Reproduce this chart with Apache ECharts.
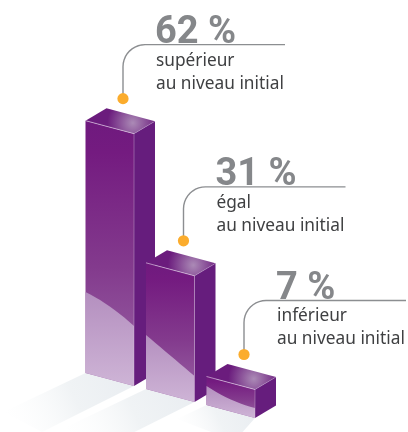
<!DOCTYPE html>
<html>
<head>
<meta charset="utf-8">
<style>html,body{margin:0;padding:0;background:#fff}#c{width:408px;height:432px}</style>
<script src="https://cdn.jsdelivr.net/npm/echarts@6/dist/echarts.min.js"></script>
</head>
<body>
<div id="c"></div>
<script>
const categories = ['supérieur', 'égal', 'inférieur'];
const values = [62, 31, 7];
const captionTail = 'au niveau initial';

// Isometric drawing constants (geometry, not data)
const GEO = {
  frontDx: 48.5, frontDy: 13, sideDx: 21, sideDy: 12.5, stepDrop: 16,
  hiLeft: [81, 54, 19], hiRight: [60, 26, 10], hiBulge: [-5, 0, 5],
  shadowReach: [1, 1, 0.36],
  anchorDx: -11, anchorDy: 9.5, leadRise: 54, leadRadius: 22, leadEnd: 162, textDx: 33
};
const PURPLE = { sideC: '#661d7d', top0: '#ab8ab6', top1: '#6b1c7d' };

const chart = echarts.init(document.getElementById('c'), null, { renderer: 'canvas' });
const lg = (x, y, x2, y2, stops) => new echarts.graphic.LinearGradient(x, y, x2, y2, stops.map((c, i) => ({ offset: c[0], color: c[1] })));

function base(api, idx) {
  const p = api.coord([idx, 0]);
  return [p[0], p[1] + idx * GEO.stepDrop];
}
function barHeight(api, idx) {
  return api.coord([idx, 0])[1] - api.coord([idx, api.value(1)])[1];
}

function renderShadow(params, api) {
  const i = api.value(0), b = base(api, i), r = GEO.shadowReach[i];
  const L = [b[0] - GEO.frontDx, b[1] - GEO.frontDy];
  return {
    type: 'polygon',
    shape: { points: [L, b, [b[0] - 92 * r + 20 * (1 - r), b[1] + 46 * r + 10 * (1 - r)], [L[0] - 82 * r, L[1] + 39 * r]] },
    style: { fill: lg(1, 0, 0, 1, [[0, '#e9edf1'], [0.45, '#f0f3f5'], [1, 'rgba(255,255,255,0)']]) }
  };
}

function renderBar(params, api) {
  const i = api.value(0), b = base(api, i);
  const h = barHeight(api, i);
  const fb = b, ft = [b[0], b[1] - h];
  const lb = [b[0] - GEO.frontDx, b[1] - GEO.frontDy], lt = [lb[0], lb[1] - h];
  const rb = [b[0] + GEO.sideDx, b[1] - GEO.sideDy], rt = [rb[0], rb[1] - h];
  const bt = [lt[0] + GEO.sideDx, lt[1] - GEO.sideDy];
  // curved boundary of the light reflection on the front face
  const p0 = [lb[0], lb[1] - GEO.hiLeft[i]], p2 = [fb[0], fb[1] - GEO.hiRight[i]];
  const c = [(p0[0] + p2[0]) / 2, (p0[1] + p2[1]) / 2 + GEO.hiBulge[i]];
  const curve = [];
  for (let t = 0; t <= 1.001; t += 0.1) {
    curve.push([(1 - t) * (1 - t) * p0[0] + 2 * t * (1 - t) * c[0] + t * t * p2[0],
                (1 - t) * (1 - t) * p0[1] + 2 * t * (1 - t) * c[1] + t * t * p2[1]]);
  }
  return {
    type: 'group',
    children: [
      { type: 'polygon', shape: { points: [lt, ft, fb, lb] },
        style: { fill: lg(0, 0, 0, 1, [[0, '#6f1a7e'], [0.12, '#741b80'], [0.55, '#833a8d'], [1, '#9a66a6']]) } },
      { type: 'polygon', shape: { points: [lb, fb].concat(curve.slice().reverse()) },
        style: { fill: lg(0, 0, 0, 1, [[0, '#b48fbf'], [1, '#ceb4d6']]) } },
      { type: 'polygon', shape: { points: [ft, rt, rb, fb] }, style: { fill: PURPLE.sideC } },
      { type: 'polygon', shape: { points: [lt, bt, rt, ft] },
        style: { fill: new echarts.graphic.RadialGradient(0.68, 0.58, 1.0, [
          { offset: 0, color: PURPLE.top0 }, { offset: 1, color: PURPLE.top1 }]) } },
      { type: 'polyline', shape: { points: [lt, ft] }, style: { stroke: 'rgba(225,205,232,0.8)', lineWidth: 0.8, fill: null } },
      { type: 'polyline', shape: { points: [ft, rt] }, style: { stroke: 'rgba(190,160,205,0.55)', lineWidth: 0.7, fill: null } },
      { type: 'polyline', shape: { points: [ft, fb] }, style: { stroke: 'rgba(225,205,232,0.5)', lineWidth: 0.7, fill: null } }
    ]
  };
}

function renderLeader(params, api) {
  const i = api.value(0), b = base(api, i);
  const h = barHeight(api, i);
  const ax = b[0] + GEO.anchorDx;
  const ay = b[1] - GEO.frontDy - GEO.sideDy - h - GEO.anchorDy;
  const ly = ay - GEO.leadRise, R = GEO.leadRadius;
  const pts = [[ax, ay]];
  for (let t = 0; t <= 1.001; t += 0.1) {
    const a = Math.PI * (1 + t / 2);
    pts.push([ax + R + R * Math.cos(a), ly + R + R * Math.sin(a)]);
  }
  pts.push([ax + GEO.leadEnd, ly]);
  const tx = ax + GEO.textDx;
  return {
    type: 'group',
    children: [
      { type: 'text', x: tx - 1, y: ly + 8, style: { text: api.value(1) + ' %', fill: '#85878a',
          font: 'bold 38px Roboto, sans-serif', textAlign: 'left', verticalAlign: 'bottom' } },
      { type: 'polyline', shape: { points: pts }, style: { stroke: '#8c8e91', lineWidth: 1.4, fill: null } },
      { type: 'circle', shape: { cx: ax, cy: ay, r: 5.6 }, style: { fill: '#fbac2d' } },
      { type: 'text', x: tx, y: ly + 16, style: { text: categories[i], fill: '#3f4042',
          font: '17.3px "Noto Sans", sans-serif', textAlign: 'left', verticalAlign: 'middle' } },
      { type: 'text', x: tx, y: ly + 39, style: { text: captionTail, fill: '#3f4042',
          font: '17.3px "Noto Sans", sans-serif', textAlign: 'left', verticalAlign: 'middle' } }
    ]
  };
}

const seriesData = values.map((v, i) => [i, v]);
chart.setOption({
  animation: false,
  backgroundColor: '#fff',
  grid: { left: 103.75, width: 181.5, top: 19.7, height: 366.3 },
  xAxis: { type: 'category', data: categories, show: false },
  yAxis: { type: 'value', min: 0, max: 90, show: false },
  series: [
    { type: 'custom', z: 1, clip: false, renderItem: renderShadow, data: seriesData, encode: { x: 0, y: 1 } },
    { type: 'custom', z: 2, clip: false, renderItem: renderBar, data: seriesData, encode: { x: 0, y: 1 } },
    { type: 'custom', z: 3, clip: false, renderItem: renderLeader, data: seriesData, encode: { x: 0, y: 1 } }
  ]
});
</script>
</body>
</html>
